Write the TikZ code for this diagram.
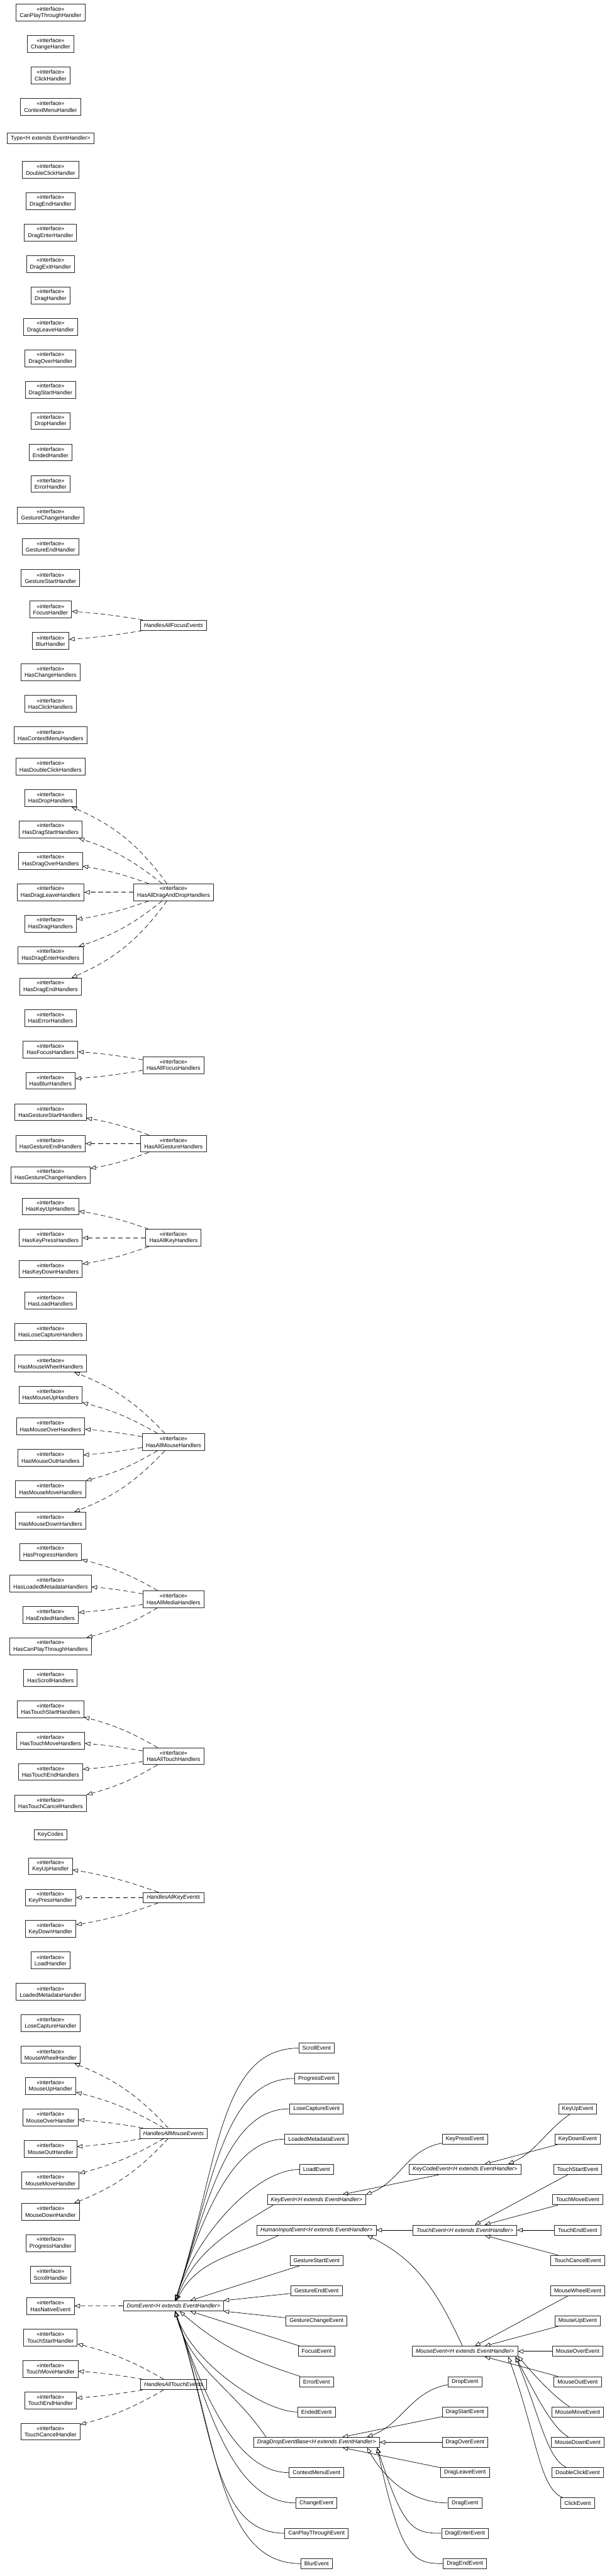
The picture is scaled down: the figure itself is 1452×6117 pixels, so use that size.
\documentclass[tikz,border=0pt]{standalone}
\usepackage{fontspec}
\setmainfont{Liberation Sans}
\usetikzlibrary{arrows.meta}

\newcommand{\umlfont}{\fontsize{13.3}{15.5}\selectfont}
\newcommand{\iface}[1]{«interface»\\#1}

\tikzset{
  cls/.style={draw=black!85, line width=1.2pt, inner xsep=8.4pt, inner ysep=3pt, minimum height=24pt, font=\umlfont},
  iface/.style={cls, align=center, minimum height=40pt},
  abstract/.style={cls, font=\umlfont\itshape},
  realize/.style={line width=1pt, dash pattern=on 11pt off 7pt, -{Triangle[open, length=13pt, width=10pt]}},
  extends/.style={line width=1pt, -{Triangle[open, length=13pt, width=10pt]}},
}

\begin{document}
\begin{tikzpicture}[x=1pt, y=1pt, font=\umlfont]
  \useasboundingbox (0,0) rectangle (1452,-6117);

  % handler interfaces, one per row (alias h<row>)
  \foreach \n [count=\i from 0] in {CanPlayThroughHandler, ChangeHandler, ClickHandler, ContextMenuHandler}
    \node[iface, alias=h\i] (\n) at (120,{-30-74.6*\i}) {\iface{\n}};
  \node[cls] (Type) at (120,{-30-74.6*4}) {Type<H extends EventHandler>};
  \foreach \n [count=\i from 5] in {DoubleClickHandler, DragEndHandler, DragEnterHandler, DragExitHandler,
      DragHandler, DragLeaveHandler, DragOverHandler, DragStartHandler, DropHandler, EndedHandler,
      ErrorHandler, GestureChangeHandler, GestureEndHandler, GestureStartHandler, FocusHandler,
      BlurHandler, HasChangeHandlers, HasClickHandlers, HasContextMenuHandlers, HasDoubleClickHandlers,
      HasDropHandlers, HasDragStartHandlers, HasDragOverHandlers, HasDragLeaveHandlers, HasDragHandlers,
      HasDragEnterHandlers, HasDragEndHandlers, HasErrorHandlers, HasFocusHandlers, HasBlurHandlers,
      HasGestureStartHandlers, HasGestureEndHandlers, HasGestureChangeHandlers, HasKeyUpHandlers,
      HasKeyPressHandlers, HasKeyDownHandlers, HasLoadHandlers, HasLoseCaptureHandlers,
      HasMouseWheelHandlers, HasMouseUpHandlers, HasMouseOverHandlers, HasMouseOutHandlers,
      HasMouseMoveHandlers, HasMouseDownHandlers, HasProgressHandlers, HasLoadedMetadataHandlers,
      HasEndedHandlers, HasCanPlayThroughHandlers, HasScrollHandlers, HasTouchStartHandlers,
      HasTouchMoveHandlers, HasTouchEndHandlers, HasTouchCancelHandlers}
    \node[iface, alias=h\i] (\n) at (120,{-30-74.6*\i}) {\iface{\n}};
  \node[cls] (KeyCodes) at (120,{-30-74.6*58}) {KeyCodes};
  \foreach \n [count=\i from 59] in {KeyUpHandler, KeyPressHandler, KeyDownHandler, LoadHandler,
      LoadedMetadataHandler, LoseCaptureHandler, MouseWheelHandler, MouseUpHandler, MouseOverHandler,
      MouseOutHandler, MouseMoveHandler, MouseDownHandler, ProgressHandler, ScrollHandler,
      HasNativeEvent, TouchStartHandler, TouchMoveHandler, TouchEndHandler, TouchCancelHandler}
    \node[iface, alias=h\i] (\n) at (120,{-30-74.6*\i}) {\iface{\n}};

  % combined interfaces
  \foreach \n/\r in {HandlesAllFocusEvents/19.5, HandlesAllKeyEvents/60, HandlesAllMouseEvents/67.5,
      HandlesAllTouchEvents/75.5}
    \node[abstract] (\n) at (412,{-30-74.6*\r}) {\n};
  \foreach \n/\r in {HasAllDragAndDropHandlers/28, HasAllFocusHandlers/33.5, HasAllGestureHandlers/36,
      HasAllKeyHandlers/39, HasAllMouseHandlers/45.5, HasAllMediaHandlers/50.5, HasAllTouchHandlers/55.5}
    \node[iface] (\n) at (412,{-30-74.6*\r}) {\iface{\n}};

  \foreach \agg/\r/\a/\b in {HandlesAllFocusEvents/19.5/19/20, HasAllDragAndDropHandlers/28/25/31,
      HasAllFocusHandlers/33.5/33/34, HasAllGestureHandlers/36/35/37, HasAllKeyHandlers/39/38/40,
      HasAllMouseHandlers/45.5/43/48, HasAllMediaHandlers/50.5/49/52, HasAllTouchHandlers/55.5/54/57,
      HandlesAllKeyEvents/60/59/61, HandlesAllMouseEvents/67.5/65/70, HandlesAllTouchEvents/75.5/74/77}
    \foreach \i in {\a,...,\b} {
      \pgfmathsetmacro\bnd{5*(\i-\r)}
      \draw[realize] (\agg) to[bend left=\bnd] (h\i);
    }

  % event classes
  \node[abstract] (DomEvent) at (412,{-4863.5-72*8.5}) {DomEvent<H extends EventHandler>};
  \draw[realize] (DomEvent) -- (HasNativeEvent);

  \foreach \n/\r in {ScrollEvent/0, ProgressEvent/1, LoseCaptureEvent/2, LoadedMetadataEvent/3, LoadEvent/4,
      GestureStartEvent/7, GestureEndEvent/8, GestureChangeEvent/9, FocusEvent/10, ErrorEvent/11,
      EndedEvent/12, ContextMenuEvent/14, ChangeEvent/15, CanPlayThroughEvent/16, BlurEvent/17}
    \node[cls] (\n) at (751.5,{-4863.5-72*\r}) {\n};
  \foreach \n/\r in {KeyEvent/5, HumanInputEvent/6, DragDropEventBase/13}
    \node[abstract] (\n) at (751.5,{-4863.5-72*\r}) {\n<H extends EventHandler>};
  \foreach \n/\r in {KeyCodeEvent/4, TouchEvent/6, MouseEvent/10}
    \node[abstract] (\n) at (1104,{-4863.5-72*\r}) {\n<H extends EventHandler>};
  \foreach \n/\r in {KeyPressEvent/3, DropEvent/11, DragStartEvent/12, DragOverEvent/13, DragLeaveEvent/14,
      DragEvent/15, DragEnterEvent/16, DragEndEvent/17}
    \node[cls] (\n) at (1104,{-4863.5-72*\r}) {\n};
  \foreach \n [count=\r from 2] in {KeyUpEvent, KeyDownEvent, TouchStartEvent, TouchMoveEvent, TouchEndEvent,
      TouchCancelEvent, MouseWheelEvent, MouseUpEvent, MouseOverEvent, MouseOutEvent, MouseMoveEvent,
      MouseDownEvent, DoubleClickEvent, ClickEvent}
    \node[cls] (\n) at (1371.5,{-4863.5-72*\r}) {\n};

  % straight generalizations
  \foreach \c/\p in {GestureStartEvent/DomEvent, GestureEndEvent/DomEvent, GestureChangeEvent/DomEvent,
      FocusEvent/DomEvent, KeyCodeEvent/KeyEvent, KeyDownEvent/KeyCodeEvent, TouchEvent/HumanInputEvent,
      TouchStartEvent/TouchEvent, TouchMoveEvent/TouchEvent, TouchEndEvent/TouchEvent,
      TouchCancelEvent/TouchEvent, MouseWheelEvent/MouseEvent, MouseUpEvent/MouseEvent,
      MouseOverEvent/MouseEvent, MouseOutEvent/MouseEvent, DragStartEvent/DragDropEventBase,
      DragOverEvent/DragDropEventBase, DragLeaveEvent/DragDropEventBase}
    \draw[extends] (\c) -- (\p);

  % curved generalizations into DomEvent
  \foreach \c/\a/\b in {ScrollEvent/192/330, ProgressEvent/169/291, LoseCaptureEvent/146/251,
      LoadedMetadataEvent/123/211, LoadEvent/100/172}
    \draw[extends] (\c) to[out=180, in=72, out distance=\a, in distance=\b] (DomEvent);
  \foreach \c/\a/\b in {EndedEvent/77/132, ContextMenuEvent/123/211, ChangeEvent/146/251,
      CanPlayThroughEvent/169/291, BlurEvent/192/330}
    \draw[extends] (\c) to[out=180, in=-72, out distance=\a, in distance=\b] (DomEvent);
  \draw[extends] (KeyEvent.187) to[out=211, in=68] (DomEvent);
  \draw[extends] (HumanInputEvent.188) to[out=205, in=62] (DomEvent);
  \draw[extends] (ErrorEvent) to[out=162, in=-41] (DomEvent);
  \draw[extends] (DragDropEventBase.174) to[out=124, in=-75] (DomEvent);

  % curved generalizations on the right
  \draw[extends] (KeyPressEvent) to[out=190, in=20] (KeyEvent.6);
  \draw[extends] (KeyUpEvent) to[out=215, in=24] (KeyCodeEvent.7);
  \draw[extends] (MouseEvent) to[out=115, in=-26] (HumanInputEvent.-6);
  \draw[extends] (DropEvent) to[out=190, in=20] (DragDropEventBase.6);
  \draw[extends] (MouseMoveEvent) to[out=147, in=-50, out distance=40, in distance=70] (MouseEvent.-5.7);
  \draw[extends] (MouseDownEvent) to[out=150, in=-62, out distance=45, in distance=110] (MouseEvent.-6);
  \draw[extends] (DoubleClickEvent) to[out=155, in=-68, out distance=50, in distance=160] (MouseEvent.-6.5);
  \draw[extends] (ClickEvent) to[out=160, in=-70, out distance=60, in distance=200] (MouseEvent.-7);
  \draw[extends] (DragEvent) to[out=180, in=-60, out distance=60, in distance=120] (DragDropEventBase.-6);
  \draw[extends] (DragEnterEvent) to[out=180, in=-72, out distance=70, in distance=200] (DragDropEventBase.-5.5);
  \draw[extends] (DragEndEvent) to[out=180, in=-78, out distance=70, in distance=270] (DragDropEventBase.-5.2);
\end{tikzpicture}
\end{document}
